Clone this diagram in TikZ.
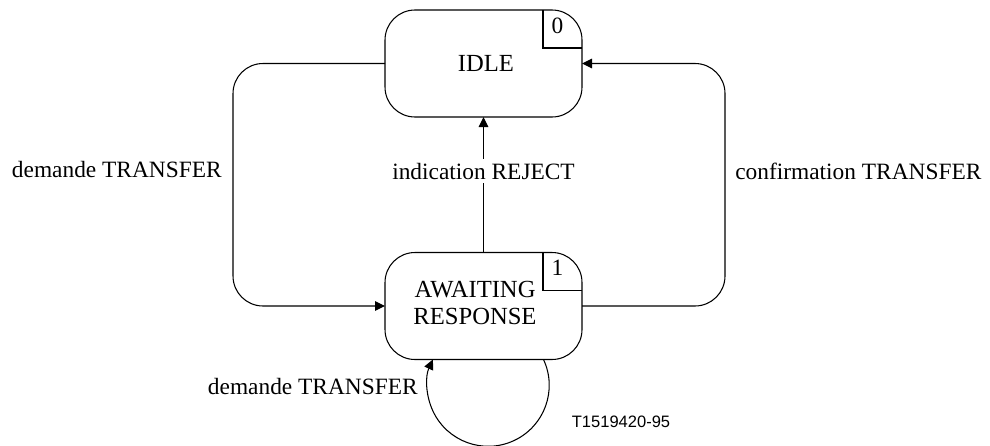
\documentclass[tikz,border=0pt]{standalone}
\usepackage{fontspec}
\setmainfont{Liberation Serif}
\newfontfamily\figfont{Liberation Sans}
\usetikzlibrary{arrows.meta,positioning}

\begin{document}
\begin{tikzpicture}[x=0.2mm, y=-0.2mm,
  every node/.style={font=\fontsize{13.3}{15.4}\selectfont},
  state/.style={draw, line width=0.6pt, rounded corners=6mm, minimum width=39.4mm,
    minimum height=21.4mm, outer sep=0pt},
  statetext/.style={align=center, inner sep=0pt, font=\fontsize{14}{15.3}\selectfont},
  trans/.style={line width=0.6pt, -{Triangle[length=2mm,width=1.9mm]}},
  lbl/.style={inner sep=0pt}]
  \useasboundingbox (0,0) rectangle (990,445);

  % States
  \node[state] (idle) at (483.5,63.5) {};
  \node[statetext] (idle-txt) at (486,63.5) {IDLE};
  \node[state] (await) at (483.5,306) {};
  \node[statetext] (await-txt) at (475,303) {AWAITING\\RESPONSE};

  % State numbers in the top right corner
  \foreach \s/\n in {idle/0, await/1} {
    \draw[line width=0.6pt] ([xshift=-7.8mm]\s.north east) |- ([yshift=-7.6mm]\s.north east);
    \node[lbl] (\s-num) at ([xshift=-4.9mm, yshift=-3.1mm]\s.north east) {\n};
  }

  % Turning points of the outer transitions
  \coordinate (lturn) at (233,0);
  \coordinate (rturn) at (725,0);

  % idle -> awaiting response
  \draw[trans, rounded corners=6mm] (idle.west) -- (idle.west -| lturn)
    -- (await.west -| lturn) -- (await.west);
  \node[lbl, anchor=east] (dem-out) at (222,170) {demande TRANSFER};

  % awaiting response -> idle
  \draw[trans, rounded corners=6mm] (await.east) -- (await.east -| rturn)
    -- (idle.east -| rturn) -- (idle.east);
  \node[lbl, anchor=west] (conf) at (735,171) {confirmation TRANSFER};

  \draw[trans] (await.north) -- node[pos=0.6, fill=white, inner sep=2pt] (rej) {indication REJECT} (idle.south);

  % Self loop
  \draw[trans] ([xshift=12mm]await.south) arc (-25:205:61);
  \node[lbl, anchor=east] (dem-loop) at (418,386) {demande TRANSFER};

  \node[lbl, font=\figfont\fontsize{9.4}{11}\selectfont] (figno) at (621,422) {T1519420-95};
\end{tikzpicture}
\end{document}
